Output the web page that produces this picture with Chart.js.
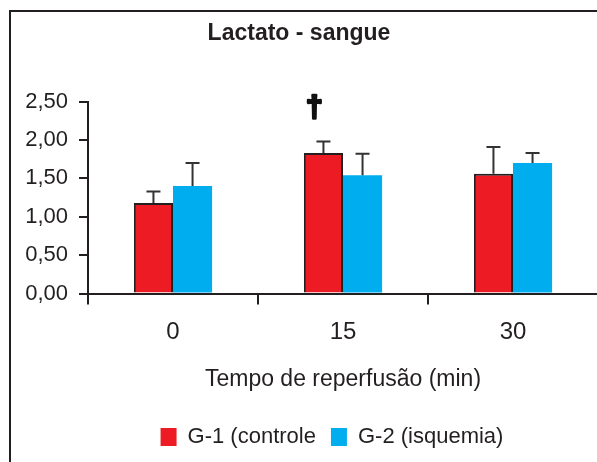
<!DOCTYPE html>
<html><head><meta charset="utf-8">
<script src="https://cdn.jsdelivr.net/npm/chart.js@4"></script>
<style>
html,body{margin:0;padding:0;background:#fff;overflow:hidden;width:597px;height:462px}
#frame{position:absolute;left:9px;top:10px;width:700px;height:600px;border-left:2px solid #231f20;border-top:2px solid #231f20;}
#wrap{position:absolute;left:0;top:0;width:600px;height:462px}
</style></head><body>
<div id="frame"></div>
<div id="wrap"><canvas id="c" width="600" height="462"></canvas></div>
<script>
const categories = ['0', '15', '30'];
const seriesNames = ['G-1 (controle', 'G-2 (isquemia)'];
const g1Values = [1.18, 1.83, 1.56];
const g1Errors = [0.15, 0.15, 0.35];
const g2Values = [1.40, 1.54, 1.70];
const g2Errors = [0.30, 0.28, 0.13];
const yTicks = [0, 0.5, 1.0, 1.5, 2.0, 2.5];
const markers = [{ dataset: 0, index: 1, symbol: '\u2020' }];
const titleText = 'Lactato - sangue';
const xTitleText = 'Tempo de reperfus\u00e3o (min)';

const INK = '#231f20';
const FONT = '"Liberation Sans", Arial, sans-serif';

const errorBars = {
  id: 'errorBars',
  afterDatasetsDraw(chart) {
    const ctx = chart.ctx;
    const ys = chart.scales.y;
    chart.data.datasets.forEach((ds, di) => {
      const meta = chart.getDatasetMeta(di);
      meta.data.forEach((el, i) => {
        const top = ys.getPixelForValue(ds.data[i] + ds.errors[i]);
        ctx.save();
        ctx.strokeStyle = '#333333';
        ctx.lineWidth = 2;
        ctx.beginPath();
        ctx.moveTo(el.x, el.y);
        ctx.lineTo(el.x, top);
        ctx.moveTo(el.x - 7, top);
        ctx.lineTo(el.x + 7, top);
        ctx.stroke();
        ctx.restore();
      });
    });
    markers.forEach(m => {
      const ds = chart.data.datasets[m.dataset];
      const el = chart.getDatasetMeta(m.dataset).data[m.index];
      const top = ys.getPixelForValue(ds.data[m.index] + ds.errors[m.index]);
      ctx.save();
      ctx.fillStyle = '#111';
      ctx.strokeStyle = '#111';
      ctx.lineWidth = 2.5;
      ctx.lineJoin = 'round';
      ctx.font = 'bold 30px ' + FONT;
      ctx.textAlign = 'center';
      ctx.textBaseline = 'alphabetic';
      ctx.strokeText(m.symbol, el.x - 9, top - 25);
      ctx.fillText(m.symbol, el.x - 9, top - 25);
      ctx.restore();
    });
  }
};

const legendShift = {
  id: 'legendShift',
  afterLayout(chart) {
    const lg = chart.legend;
    if (!lg) return;
    lg.left += 33; lg.right += 33;
    lg.top -= 4; lg.bottom -= 4;
  }
};

new Chart(document.getElementById('c'), {
  type: 'bar',
  data: {
    labels: categories,
    datasets: [
      { label: seriesNames[0], data: g1Values, errors: g1Errors,
        backgroundColor: '#ed1c24', borderColor: INK, borderWidth: 2,
        categoryPercentage: 0.46, barPercentage: 1.0 },
      { label: seriesNames[1], data: g2Values, errors: g2Errors,
        backgroundColor: '#00aeef', borderColor: '#00a0dc', borderWidth: 0,
        categoryPercentage: 0.46, barPercentage: 1.0 }
    ]
  },
  options: {
    responsive: false,
    animation: false,
    devicePixelRatio: 1,
    layout: { padding: { left: 0, right: 2, top: 0, bottom: 0 } },
    plugins: {
      tooltip: { enabled: false },
      title: {
        display: true, text: titleText, color: INK,
        font: { family: FONT, size: 23, weight: 'bold' },
        padding: { top: 20, bottom: 54 }
      },
      legend: {
        position: 'bottom',
        labels: {
          color: INK, font: { family: FONT, size: 22 },
          boxWidth: 16, boxHeight: 18, padding: 15,
          generateLabels(chart) {
            const items = Chart.defaults.plugins.legend.labels.generateLabels(chart);
            items.forEach(it => { it.lineWidth = 0; });
            return items;
          }
        }
      }
    },
    scales: {
      x: {
        afterFit(s) { s.height = 121.5; },
        grid: { display: true, drawOnChartArea: false, drawTicks: true, tickLength: 11, color: INK, lineWidth: 2, offset: true },
        border: { display: true, color: INK, width: 2 },
        ticks: { color: INK, font: { family: FONT, size: 24 }, padding: 13 },
        title: { display: true, text: xTitleText, color: INK, font: { family: FONT, size: 23 }, padding: { top: 0, bottom: 22 } }
      },
      y: {
        min: yTicks[0], max: yTicks[yTicks.length - 1],
        afterFit(s) { s.width = 88; },
        afterBuildTicks(s) { s.ticks = yTicks.map(v => ({ value: v })); },
        grid: { display: true, drawOnChartArea: false, drawTicks: true, tickLength: 9, color: INK, lineWidth: 2 },
        border: { display: true, color: INK, width: 2 },
        ticks: { color: INK, font: { family: FONT, size: 22 }, padding: 11,
          callback: v => Number(v).toFixed(2).replace('.', ',') }
      }
    }
  },
  plugins: [errorBars, legendShift]
});
</script>
</body></html>
